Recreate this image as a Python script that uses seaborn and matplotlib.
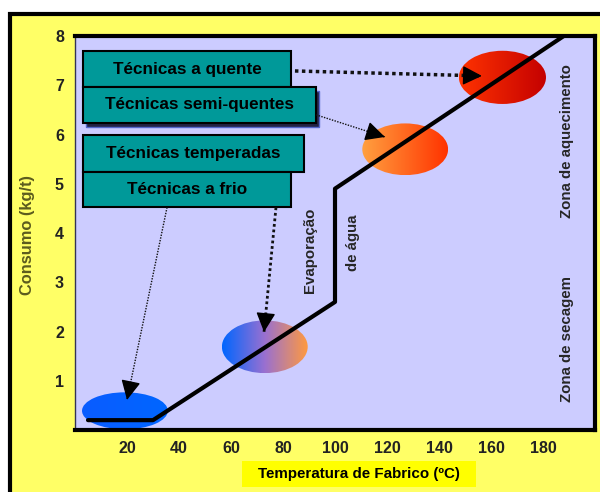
import numpy as np
import pandas as pd
import seaborn as sns
import matplotlib.pyplot as plt
from matplotlib.patches import Ellipse, Rectangle
from matplotlib.colors import LinearSegmentedColormap

# consumption curve
temperatura = [5, 30, 100, 100, 188]
consumo = [0.2, 0.2, 2.6, 4.9, 8.0]

# technique zones (ellipses)
zona_x = [19.2, 73, 127, 164.4]
zona_y = [0.39, 1.69, 5.7, 7.16]
zona_w = [33, 33, 33, 33.5]
zona_h = [0.75, 1.07, 1.05, 1.08]
zona_cores = [
    ['#0a5cff', '#0066ff'],
    ['#0066ff', '#9a70d0', '#ff9a40'],
    ['#ffa040', '#ff3300'],
    ['#ff3300', '#c40000'],
]

tecnicas = ['Técnicas a quente', 'Técnicas semi-quentes', 'Técnicas temperadas', 'Técnicas a frio']
x_ticks = [20, 40, 60, 80, 100, 120, 140, 160, 180]
y_ticks = [1, 2, 3, 4, 5, 6, 7, 8]

sns.set_style('white')
plt.rcParams['font.family'] = ['Liberation Sans', 'DejaVu Sans']
plt.rcParams['font.weight'] = 'bold'

fig = plt.figure(figsize=(6, 4.92), dpi=100)
fig.patch.set_facecolor('white')

# yellow frame with black top / left border
frame = Rectangle((10 / 600, -0.1), 1.2, 0.1 + (492 - 14) / 492, transform=fig.transFigure,
                  facecolor='#FFFF66', edgecolor='black', linewidth=3, zorder=-10)
fig.patches.append(frame)
fig.patches.append(Rectangle((242 / 600, 5 / 492), 234 / 600, 26 / 492, transform=fig.transFigure,
                             facecolor='#FFFF00', edgecolor='none', zorder=-5))

ax = fig.add_axes([75 / 600, 1 - 430 / 492, 520 / 600, 394 / 492])
ax.set_facecolor('#CCCCFF')

# gradient ellipses
for cx, cy, w, h, cols in zip(zona_x, zona_y, zona_w, zona_h, zona_cores):
    cmap = LinearSegmentedColormap.from_list('g', cols)
    e = Ellipse((cx, cy), w, h, facecolor='none', edgecolor='none')
    ax.add_patch(e)
    grad = np.linspace(0, 1, 256).reshape(1, -1)
    im = ax.imshow(grad, cmap=cmap, extent=[cx - w / 2, cx + w / 2, cy - h / 2, cy + h / 2],
                   aspect='auto', zorder=1, interpolation='bicubic')
    im.set_clip_path(e)

df = pd.DataFrame({'temperatura': temperatura, 'consumo': consumo})
sns.lineplot(data=df, x='temperatura', y='consumo', sort=False, estimator=None,
             color='black', linewidth=3, ax=ax, zorder=3)

ax.set_xlim(0, 200)
ax.set_ylim(0, 8)
ax.set_xticks(x_ticks)
ax.set_yticks(y_ticks)
ax.tick_params(direction='inout', length=12, width=2.2, color='black', labelsize=11.5,
               labelcolor='#222222', pad=2)
for lab in ax.get_xticklabels() + ax.get_yticklabels():
    lab.set_fontweight('bold')

for s in ['top', 'right', 'bottom']:
    ax.spines[s].set_color('black')
    ax.spines[s].set_linewidth(3)
ax.spines['left'].set_color('#333355')
ax.spines['left'].set_linewidth(1)

ax.set_ylabel('Consumo (kg/t)', fontsize=11.8, fontweight='bold', color='#5c5c1e')
ax.yaxis.set_label_coords(-0.092, 0.495)
ax.yaxis.label.set_verticalalignment('center')
ax.set_xlabel('Temperatura de Fabrico (ºC)', fontsize=10.9, fontweight='bold', color='black')
ax.xaxis.set_label_coords(0.546, -0.112)
ax.xaxis.label.set_verticalalignment('center')

# technique boxes (data coords)
caixas = [
    (3.1, 6.96, 80.0, 0.73),
    (3.1, 6.24, 89.5, 0.72),
    (3.1, 5.24, 85.0, 0.75),
    (3.1, 4.52, 80.0, 0.72),
]
# shadow under the semi-quentes box
ax.add_patch(Rectangle((4.3, 6.16), 89.5, 0.72, facecolor='#222244', edgecolor='#5566cc',
                       linewidth=1, zorder=5))
for (bx, by, bw, bh), nome in zip(caixas, tecnicas):
    ax.add_patch(Rectangle((bx, by), bw, bh, facecolor='#009999', edgecolor='black',
                           linewidth=1.5, zorder=6))
    ax.text(bx + bw / 2, by + bh / 2, nome, ha='center', va='center', fontsize=12.3,
            fontweight='bold', color='black', zorder=7)

# arrows: dotted shaft + solid head
setas = [
    ((84.6, 7.29), (156.5, 7.19), 2.5),
    ((92.7, 6.40), (119.2, 5.95), 1.0),
    ((35.4, 4.52), (20.0, 0.61), 1.0),
    ((77.3, 4.52), (72.7, 1.99), 2.0),
]
for (x0, y0), (x1, y1), lw in setas:
    ax.plot([x0, x1], [y0, y1], color='#111111', linestyle=(0, (1, 1)), linewidth=lw, zorder=8)
    xs = x1 - (x1 - x0) * 0.02
    ys = y1 - (y1 - y0) * 0.02
    ax.annotate('', xy=(x1, y1), xytext=(xs, ys),
                arrowprops=dict(arrowstyle='-|>,head_length=1.0,head_width=0.5', color='black',
                                linewidth=1, shrinkA=0, shrinkB=0, mutation_scale=12),
                zorder=9)

# rotated labels
ax.text(90.2, 3.65, 'Evaporação', rotation=90, ha='center', va='center', fontsize=10.8,
        fontweight='bold', zorder=4)
ax.text(106.9, 3.8, 'de água', rotation=90, ha='center', va='center', fontsize=10.8,
        fontweight='bold', zorder=4)
ax.text(189.2, 5.87, 'Zona de aquecimento', rotation=90, ha='center', va='center', fontsize=10.8,
        fontweight='bold', zorder=4)
ax.text(189.2, 1.85, 'Zona de secagem', rotation=90, ha='center', va='center', fontsize=10.8,
        fontweight='bold', zorder=4)

fig.savefig('out.png', dpi=100)
